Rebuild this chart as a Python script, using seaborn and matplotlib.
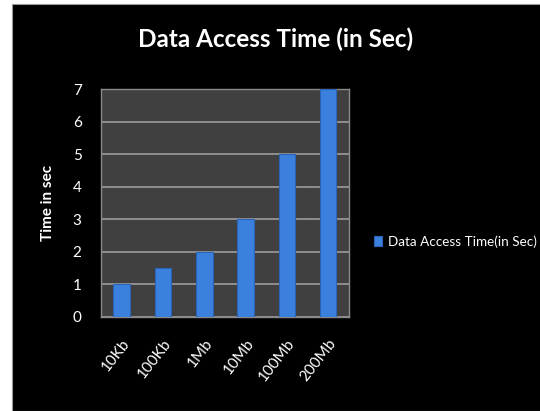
import pandas as pd
import matplotlib.pyplot as plt
import seaborn as sns
from matplotlib.patches import Rectangle

sizes = ['10Kb', '100Kb', '1Mb', '10Mb', '100Mb', '200Mb']
access_time = [1, 1.5, 2, 3, 5, 7]
series_name = 'Data Access Time(in Sec)'

df = pd.DataFrame({'size': sizes, 'time': access_time, 'series': series_name})

sns.set_style('dark')
plt.rcParams['font.family'] = ['Lato', 'DejaVu Sans']

fig = plt.figure(figsize=(5.4, 4.11), dpi=100, facecolor='white')
# black chart panel with a thin white margin left/top
fig.patches.append(Rectangle((12 / 540, 0), 1, 1 - 4 / 411, transform=fig.transFigure,
                             facecolor='black', edgecolor='#999999', linewidth=0.8, zorder=-10))

ax = fig.add_axes([0.187, 0.229, 0.459, 0.554])
ax.set_facecolor('#404040')
sns.barplot(data=df, x='size', y='time', hue='series', palette=['#3b80dc'],
            saturation=1, width=0.4, edgecolor='#2a64b8', linewidth=0.8, ax=ax, zorder=3)

ax.set_ylim(0, 7)
ax.set_yticks(range(0, 8))
ax.grid(axis='y', color='#9c9c9c', linewidth=1.2, zorder=0)
ax.grid(axis='x', visible=False)
ax.set_axisbelow(True)
for s in ax.spines.values():
    s.set_visible(True)
    s.set_color('#8a8a8a')
    s.set_linewidth(1)

ax.tick_params(axis='both', colors='white', labelsize=11, length=0)
ax.tick_params(axis='y', pad=14)
ax.tick_params(axis='x', pad=14)
plt.setp(ax.get_xticklabels(), rotation=52, ha='right', rotation_mode='anchor')
ax.set_xlabel('')
ax.set_ylabel('Time in sec', color='white', fontsize=11, fontweight='bold', labelpad=13)

fig.text(0.51, 0.905, 'Data Access Time (in Sec)', color='white', fontsize=17.5,
         fontweight='bold', ha='center', va='center')

leg = ax.legend(loc='center left', bbox_to_anchor=(1.08, 0.33), frameon=False,
                fontsize=9.7, handlelength=0.6, handleheight=0.8, handletextpad=0.4,
                borderaxespad=0)
for t in leg.get_texts():
    t.set_color('white')

fig.savefig('out.png', dpi=100, facecolor=fig.get_facecolor())
